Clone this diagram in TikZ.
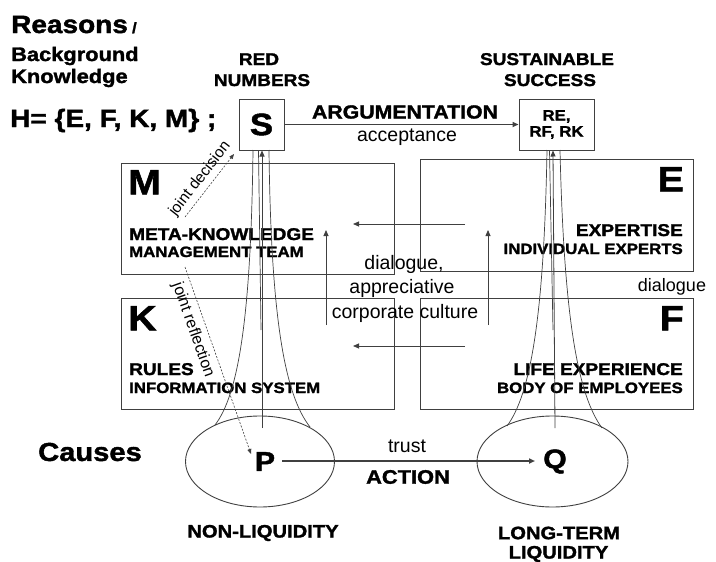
\documentclass[tikz,border=0pt]{standalone}
\usepackage{fontspec}
\setmainfont{Liberation Sans}
\newfontfamily\hb[FakeStretch=1.12,FakeBold=1.6]{Liberation Sans Bold}
\usetikzlibrary{arrows.meta,shapes.geometric}
\newcommand\fsz[1]{\fontsize{#1}{#1}\selectfont}
\definecolor{ln}{gray}{0.25}
\tikzset{
  box/.style={draw=ln, line width=0.9pt, inner sep=0pt},
  ell/.style={draw=ln, line width=0.9pt, ellipse, inner sep=0pt},
  bt/.style={inner sep=0pt, font=\hb},
  rt/.style={inner sep=0pt},
  conn/.style={draw=ln, line width=0.8pt},
  tip/.style={-{Triangle[length=6pt,width=5pt]}},
  dsh/.style={draw=ln, line width=0.6pt, dash pattern=on 2pt off 1.5pt, -{Triangle[length=5pt,width=4pt]}},
}
\begin{document}
\begin{tikzpicture}[x=1pt,y=-1pt]
\useasboundingbox[fill=white] (0,0) rectangle (716,562);

% top-left texts
\node[bt, anchor=base west] (reasons) at (11,33) {\fsz{25}Reasons\,\fsz{15}/};
\node[bt, anchor=base west] (bg) at (11,61) {\fsz{19.5}Background};
\node[bt, anchor=base west] (kn) at (11,83) {\fsz{19.5}Knowledge};
\node[bt, anchor=base west] (H) at (10,127) {\fsz{25}H= \{E, F, K, M\} ;};

% top headings
\node[bt, anchor=base] (red) at (259,65) {\fsz{17}RED};
\node[bt, anchor=base] (num) at (262,86) {\fsz{17}NUMBERS};
\node[bt, anchor=base] (sus) at (547,65) {\fsz{17}SUSTAINABLE};
\node[bt, anchor=base] (suc) at (550,86) {\fsz{17}SUCCESS};

% S and RE boxes
\node[box, minimum width=45pt, minimum height=51pt, font=\hb\fsz{31}] (S) at (261.5,124.5) {S};
\node[box, minimum width=75pt, minimum height=51pt, align=center, font=\hb\fsz{15}] (R) at (556.5,124.5) {\fsz{15}RE,\\[1pt]RF, RK};

% argumentation
\draw[conn, line width=1.5pt, tip] (S.east) -- (R.west);
\node[bt] (arg) at (405,112) {\fsz{19}ARGUMENTATION};
\node[rt] (acc) at (407,137.5) {\fsz{19.5}acceptance};

% four boxes
\node[box, anchor=north west, minimum width=273pt, minimum height=111pt] (Mb) at (121,163) {};
\node[box, anchor=north west, minimum width=273pt, minimum height=112pt] (Eb) at (420,159) {};
\node[box, anchor=north west, minimum width=273pt, minimum height=111pt] (Kb) at (121,298) {};
\node[box, anchor=north west, minimum width=273pt, minimum height=111pt] (Fb) at (420,298) {};

\node[bt, anchor=north west] (Ml) at (128,170) {\fsz{35}M};
\node[bt, anchor=north west] (Kl) at (128,306) {\fsz{35}K};
\node[bt, anchor=north east] (El) at (684,167) {\fsz{35}E};
\node[bt, anchor=north east] (Fl) at (684,306) {\fsz{35}F};

\node[bt, anchor=base west] (mk) at (129,240) {\fsz{17}META-KNOWLEDGE};
\node[bt, anchor=base west] (mt) at (129,257) {\fsz{15}MANAGEMENT TEAM};
\node[bt, anchor=base west] (ru) at (129,375) {\fsz{17}RULES};
\node[bt, anchor=base west] (is) at (129,393) {\fsz{15}INFORMATION SYSTEM};
\node[bt, anchor=base east] (ex) at (683,236) {\fsz{17}EXPERTISE};
\node[bt, anchor=base east] (ie) at (683,254) {\fsz{15}INDIVIDUAL EXPERTS};
\node[bt, anchor=base east] (le) at (683,375) {\fsz{17}LIFE EXPERIENCE};
\node[bt, anchor=base east] (be) at (683,393) {\fsz{15}BODY OF EMPLOYEES};

% dialogue arrows
\coordinate (h1s) at (465,224); \coordinate (h1e) at (353,224);
\coordinate (h2s) at (465,346); \coordinate (h2e) at (353,346);
\coordinate (v1s) at (326,325); \coordinate (v1e) at (326,230);
\coordinate (v2s) at (488,325); \coordinate (v2e) at (488,230);
\draw[conn, tip] (h1s) -- (h1e);
\draw[conn, tip] (h2s) -- (h2e);
\draw[conn, tip] (v1s) -- (v1e);
\draw[conn, tip] (v2s) -- (v2e);
\node[rt, anchor=base] (d1) at (404,269) {\fsz{19.5}dialogue,};
\node[rt, anchor=base] (d2) at (402,293) {\fsz{19.5}appreciative};
\node[rt, anchor=base] (d3) at (405,318) {\fsz{19.5}corporate culture};
\node[rt, anchor=base] (d4) at (672,291) {\fsz{18}dialogue};

% ellipses
\node[ell, minimum width=149pt, minimum height=91pt, font=\hb\fsz{27}] (P) at (260,461.5) {\hspace*{10pt}P};
\node[ell, minimum width=151pt, minimum height=91pt, font=\hb\fsz{27}] (Q) at (552.5,461.5) {\hspace*{5pt}Q};
\node[bt] (caus) at (90,452) {\fsz{26}Causes};
\node[bt] (nl) at (263,533) {\fsz{18}NON-LIQUIDITY};
\node[bt] (lt) at (559,533) {\fsz{18}LONG-TERM};
\node[bt] (lq) at (558.5,554) {\fsz{18}LIQUIDITY};

% action arrow
\coordinate (pa) at (282,461);
\coordinate (qa) at (535,461);
\draw[conn, line width=1.6pt, tip] (pa) -- (qa);
\node[rt] (tr) at (407,446) {\fsz{19.5}trust};
\node[bt] (act) at (408,477) {\fsz{19.5}ACTION};

% funnels S <- P
\coordinate (pc) at (262,428);
\coordinate (sc) at (262,150.5);
\draw[conn, line width=0.7pt] (253,150) .. controls (251,320) and (238,395) .. (215,425);
\draw[conn, line width=0.7pt] (269,150) .. controls (271,320) and (285,395) .. (310,427);
\draw[conn, line width=0.7pt] (258.5,150.5) -- (261,330);
\draw[conn, tip] (pc) -- (sc);

% funnels RE <- Q
\coordinate (qc) at (555,428);
\coordinate (rc) at (553,150.5);
\draw[conn, line width=0.7pt] (547,150) .. controls (544,320) and (530,395) .. (507,426);
\draw[conn, line width=0.7pt] (560,150) .. controls (564,320) and (578,395) .. (602,428);
\draw[conn, line width=0.7pt] (549.5,150.5) -- (553,330);
\draw[conn, tip] (qc) -- (rc);

% dashed joint arrows
\coordinate (jd1) at (185,217);
\coordinate (jd2) at (234,154);
\draw[dsh] (jd1) -- (jd2);
\node[rt, rotate=52, font=\fsz{15.5}] (jdt) at (200,179) {joint decision};
\coordinate (jr1) at (185,267);
\coordinate (jr2) at (251,454);
\draw[dsh] (jr1) -- (jr2);
\node[rt, rotate=-70.6, font=\fsz{16}] (jrt) at (193,330) {joint reflection};
\end{tikzpicture}
\end{document}
